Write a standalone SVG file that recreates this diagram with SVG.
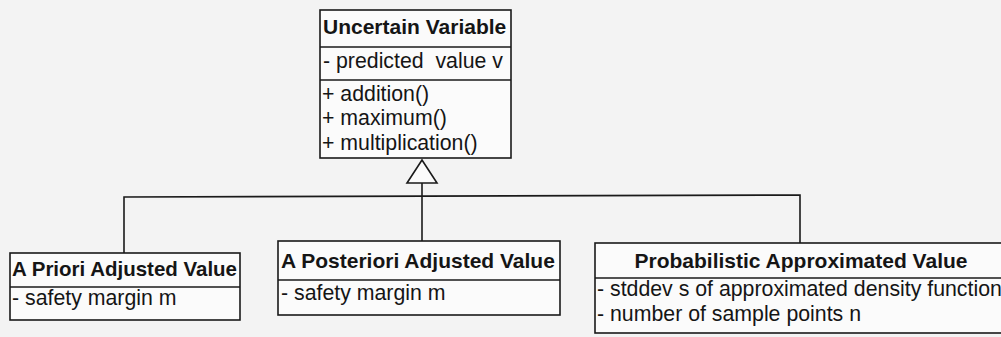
<svg xmlns="http://www.w3.org/2000/svg" width="1001" height="337" viewBox="0 0 1001 337">
<style>
.box{fill:#fbfbfb;stroke:#1a1a1a;stroke-width:1.6}
.ln{stroke:#1a1a1a;stroke-width:1.6;fill:none}
.t{font-family:"Liberation Sans",Arial,sans-serif;font-size:21.3px;fill:#151515}
.b{font-weight:bold;font-size:21px}
</style>
<rect width="1001" height="337" fill="#f3f3f3"/>
<g id="connectors">
<polyline class="ln" points="124,253 124,197 800,195 800,243"/>
<line class="ln" x1="422" y1="183" x2="422" y2="241"/>
<polygon points="422,160 407,183 437,183" fill="#fbfbfb" stroke="#1a1a1a" stroke-width="1.6"/>
</g>
<g id="uncertain-variable">
<rect class="box" x="320" y="10" width="191" height="148"/>
<line class="ln" x1="320" y1="47" x2="511" y2="47"/>
<line class="ln" x1="320" y1="80" x2="511" y2="80"/>
<text class="t b" x="323" y="34">Uncertain Variable</text>
<text class="t" x="323" y="68" xml:space="preserve">- predicted  value v</text>
<text class="t" x="322" y="101">+ addition()</text>
<text class="t" x="322" y="125">+ maximum()</text>
<text class="t" x="322" y="150">+ multiplication()</text>
</g>
<g id="a-priori">
<rect class="box" x="10" y="253" width="230" height="67"/>
<line class="ln" x1="10" y1="287" x2="240" y2="287"/>
<text class="t b" x="12" y="276" textLength="225" lengthAdjust="spacingAndGlyphs">A Priori Adjusted Value</text>
<text class="t" x="12" y="305">- safety margin m</text>
</g>
<g id="a-posteriori">
<rect class="box" x="278" y="241" width="282" height="74"/>
<line class="ln" x1="278" y1="280" x2="560" y2="280"/>
<text class="t b" x="281" y="268">A Posteriori Adjusted Value</text>
<text class="t" x="281" y="300">- safety margin m</text>
</g>
<g id="probabilistic">
<rect class="box" x="595" y="243" width="412" height="90"/>
<line class="ln" x1="595" y1="278" x2="1007" y2="278"/>
<text class="t b" x="801" y="268" text-anchor="middle">Probabilistic Approximated Value</text>
<text class="t" x="597" y="296">- stddev s of approximated density function</text>
<text class="t" x="597" y="321">- number of sample points n</text>
</g>
</svg>
